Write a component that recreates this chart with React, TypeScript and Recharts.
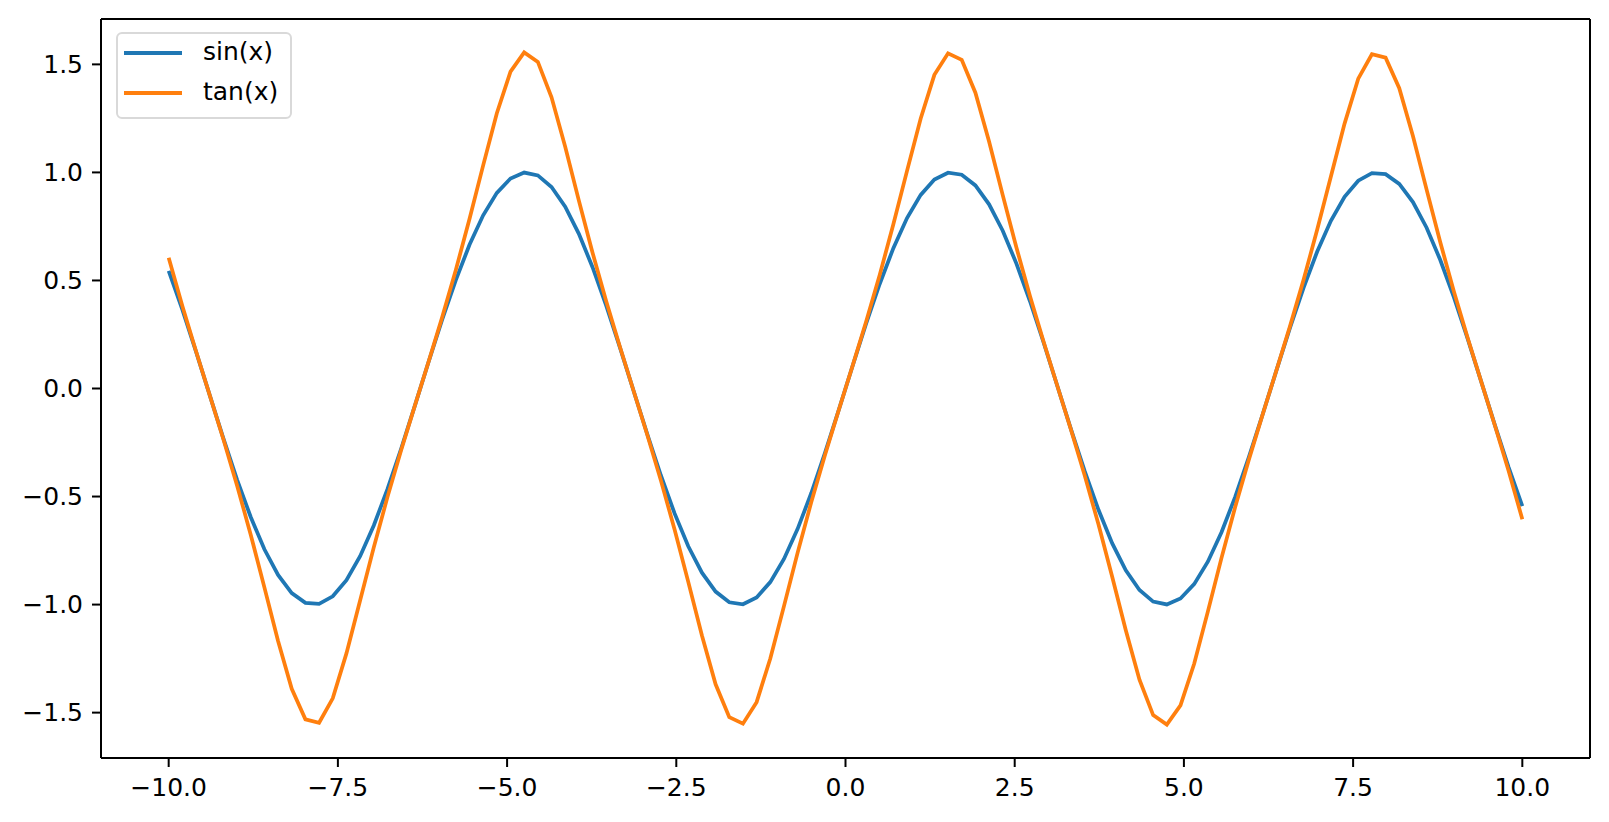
import React from 'react';
import { LineChart, Line, XAxis, YAxis, ReferenceLine } from 'recharts';

// sample positions (100 evenly spaced points from -10 to 10)
const xHalf = [
  -10.0, -9.798, -9.596, -9.3939, -9.1919, -8.9899, -8.7879, -8.5859, -8.3838, -8.1818,
  -7.9798, -7.7778, -7.5758, -7.3737, -7.1717, -6.9697, -6.7677, -6.5657, -6.3636, -6.1616,
  -5.9596, -5.7576, -5.5556, -5.3535, -5.1515, -4.9495, -4.7475, -4.5455, -4.3434, -4.1414,
  -3.9394, -3.7374, -3.5354, -3.3333, -3.1313, -2.9293, -2.7273, -2.5253, -2.3232, -2.1212,
  -1.9192, -1.7172, -1.5152, -1.3131, -1.1111, -0.9091, -0.7071, -0.5051, -0.303, -0.101,
];
const xValues = [...xHalf, ...xHalf.slice().reverse().map((v) => -v)];

const sinValues = [
  0.544, 0.3646, 0.1704, -0.0309, -0.2308, -0.4213, -0.5947, -0.744, -0.863, -0.9467,
  -0.9922, -0.997, -0.9615, -0.8867, -0.776, -0.6341, -0.4658, -0.2788, -0.0803, 0.1213,
  0.318, 0.5018, 0.665, 0.8014, 0.9053, 0.972, 0.9994, 0.9862, 0.9325, 0.8414,
  0.7158, 0.5612, 0.3837, 0.1906, -0.0103, -0.2107, -0.4025, -0.5781, -0.73, -0.8522,
  -0.9398, -0.9893, -0.9984, -0.9671, -0.896, -0.789, -0.6496, -0.4838, -0.2984, -0.1008,
  0.1008, 0.2984, 0.4838, 0.6496, 0.789, 0.896, 0.9671, 0.9984, 0.9893, 0.9398,
  0.8522, 0.73, 0.5781, 0.4025, 0.2107, 0.0103, -0.1906, -0.3837, -0.5612, -0.7158,
  -0.8414, -0.9325, -0.9862, -0.9994, -0.972, -0.9053, -0.8014, -0.665, -0.5018, -0.318,
  -0.1213, 0.0803, 0.2788, 0.4658, 0.6341, 0.776, 0.8867, 0.9615, 0.997, 0.9922,
  0.9467, 0.863, 0.744, 0.5947, 0.4213, 0.2308, 0.0309, -0.1704, -0.3646, -0.544,
];

const tanValues = [
  0.605, 0.3817, 0.1721, -0.0309, -0.235, -0.4482, -0.6765, -0.9204, -1.1686, -1.39,
  -1.531, -1.547, -1.434, -1.226, -0.9815, -0.7354, -0.5027, -0.2862, -0.0805, 0.1219,
  0.3292, 0.5487, 0.784, 1.0327, 1.2738, 1.4664, 1.5556, 1.5117, 1.348, 1.1189,
  0.8696, 0.6285, 0.4037, 0.1929, -0.0103, -0.2139, -0.4258, -0.6525, -0.8949, -1.1432,
  -1.369, -1.521, -1.5513, -1.4516, -1.2497, -1.0071, -0.7596, -0.5254, -0.3076, -0.1011,
  0.1011, 0.3076, 0.5254, 0.7596, 1.0071, 1.2497, 1.4516, 1.5513, 1.521, 1.369,
  1.1432, 0.8949, 0.6525, 0.4258, 0.2139, 0.0103, -0.1929, -0.4037, -0.6285, -0.8696,
  -1.1189, -1.348, -1.5117, -1.5556, -1.4664, -1.2738, -1.0327, -0.784, -0.5487, -0.3292,
  -0.1219, 0.0805, 0.2862, 0.5027, 0.7354, 0.9815, 1.226, 1.434, 1.547, 1.531,
  1.39, 1.1686, 0.9204, 0.6765, 0.4482, 0.235, 0.0309, -0.1721, -0.3817, -0.605,
];

const xTicks = [-10, -7.5, -5, -2.5, 0, 2.5, 5, 7.5, 10];
const yTicks = [-1.5, -1, -0.5, 0, 0.5, 1, 1.5];
const xDomain = [-11, 11];
const yDomain = [-1.71, 1.71];

const data = xValues.map((x, i) => ({ x, sin: sinValues[i], tan: tanValues[i] }));

const FONT = '"DejaVu Sans", sans-serif';
const fmt = (v: number) => v.toFixed(1).replace('-', '\u2212');
const tickStyle = { fill: '#000', fontSize: 25, fontFamily: FONT };
const axisStroke = { stroke: '#000', strokeWidth: 2 };

const legendItems = [
  { name: 'sin(x)', color: '#1f77b4' },
  { name: 'tan(x)', color: '#ff7f0e' },
];

export default function App() {
  return (
    <div style={{ position: 'absolute', left: 0, top: 0, width: 1609, height: 822, background: '#fff' }}>
      <LineChart width={1609} height={822} data={data} margin={{ top: 19, right: 19, bottom: 24, left: 41 }}>
        <XAxis
          dataKey="x"
          type="number"
          domain={xDomain}
          ticks={xTicks}
          tickFormatter={fmt}
          tick={tickStyle}
          tickSize={9}
          tickMargin={11}
          height={40}
          axisLine={axisStroke}
          tickLine={axisStroke}
          allowDataOverflow
        />
        <YAxis
          type="number"
          domain={yDomain}
          ticks={yTicks}
          tickFormatter={fmt}
          tick={tickStyle}
          tickSize={9}
          tickMargin={9}
          width={60}
          axisLine={axisStroke}
          tickLine={axisStroke}
          allowDataOverflow
        />
        {/* top and right spines */}
        <ReferenceLine y={yDomain[1]} stroke="#000" strokeWidth={2} />
        <ReferenceLine x={xDomain[1]} stroke="#000" strokeWidth={2} />
        <Line dataKey="sin" stroke="#1f77b4" strokeWidth={3.75} dot={false} isAnimationActive={false} />
        <Line dataKey="tan" stroke="#ff7f0e" strokeWidth={3.75} dot={false} isAnimationActive={false} />
      </LineChart>
      <div
        style={{
          position: 'absolute',
          left: 116,
          top: 32,
          width: 176,
          height: 87,
          boxSizing: 'border-box',
          border: '2px solid #d9d9d9',
          borderRadius: 6,
          background: 'rgba(255,255,255,0.8)',
          fontFamily: FONT,
          fontSize: 25,
          color: '#000',
        }}
      >
        {legendItems.map((item, i) => (
          <div key={item.name} style={{ position: 'absolute', left: 0, top: 21 + i * 40 - 2, width: '100%' }}>
            <div
              style={{
                position: 'absolute',
                left: 6,
                top: -2,
                width: 58,
                height: 4,
                background: item.color,
              }}
            />
            <div style={{ position: 'absolute', left: 85, top: -16, lineHeight: '30px', whiteSpace: 'nowrap' }}>
              {item.name}
            </div>
          </div>
        ))}
      </div>
    </div>
  );
}
